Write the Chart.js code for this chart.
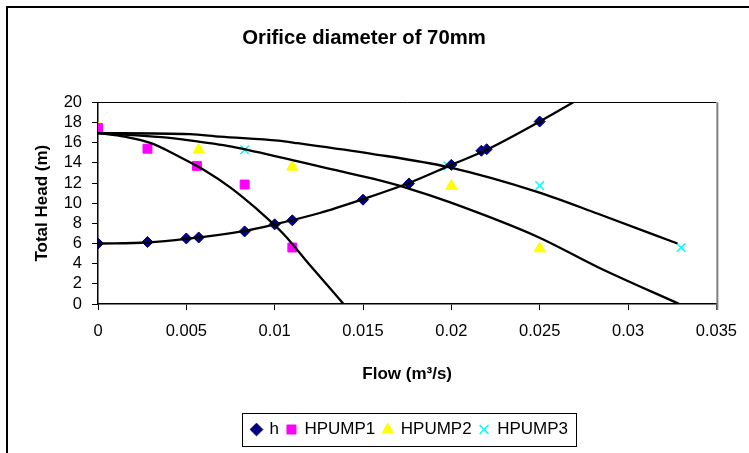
<!DOCTYPE html>
<html>
<head>
<meta charset="utf-8">
<script src="https://cdn.jsdelivr.net/npm/chart.js@4.4.1/dist/chart.umd.min.js"></script>
<style>
  html, body { margin: 0; padding: 0; background: #ffffff; }
  #wrap { width: 749px; height: 453px; position: relative; }
</style>
</head>
<body>
<div id="wrap"><canvas id="c" width="749" height="453"></canvas></div>
<script>
// ---- data ----
const chartTitle = 'Orifice diameter of 70mm';
const xTitle = 'Flow (m³/s)';
const yTitle = 'Total Head (m)';
const xTickLabels = ['0', '0.005', '0.01', '0.015', '0.02', '0.025', '0.03', '0.035'];
const seriesNames = ['h', 'HPUMP1', 'HPUMP2', 'HPUMP3'];

const hFlow = [0, 0.0028, 0.005, 0.0057, 0.0083, 0.01, 0.011, 0.015, 0.0176, 0.02, 0.0217, 0.022, 0.025];
const hHead = [6.0, 6.15, 6.5, 6.6, 7.2, 7.9, 8.3, 10.35, 11.95, 13.8, 15.2, 15.35, 18.1];

const pump1Flow = [0, 0.0028, 0.0056, 0.0083, 0.011];
const pump1Head = [17.45, 15.4, 13.7, 11.85, 5.6];
const pump2Flow = [0, 0.0057, 0.011, 0.02, 0.025];
const pump2Head = [17.4, 15.3, 13.6, 11.7, 5.5];
const pump3Flow = [0, 0.0083, 0.0198, 0.025, 0.033];
const pump3Head = [17.5, 15.3, 13.7, 11.75, 5.6];

// trend lines
const trendHFlow = [0, 0.0028, 0.005, 0.0083, 0.01, 0.0125, 0.015, 0.0176, 0.02, 0.022, 0.025, 0.0269];
const trendHHead = [6.0, 6.1, 6.45, 7.25, 7.9, 9.0, 10.4, 12.0, 13.8, 15.3, 18.1, 20.0];
const trend1Flow = [0, 0.0015, 0.003, 0.0045, 0.006, 0.0075, 0.009, 0.0105, 0.012, 0.0139];
const trend1Head = [16.95, 16.6, 15.95, 14.7, 13.3, 11.55, 9.4, 6.95, 3.85, 0];
const trend2Flow = [0, 0.0036, 0.0055, 0.0071, 0.0102, 0.0134, 0.0155, 0.0175, 0.0199, 0.0249, 0.0283, 0.0329];
const trend2Head = [16.95, 16.55, 16.15, 15.75, 14.6, 13.3, 12.45, 11.5, 10.1, 6.65, 3.65, 0];
const trend3Flow = [0, 0.0052, 0.0069, 0.0102, 0.0113, 0.0155, 0.0199, 0.0249, 0.0283, 0.0328];
const trend3Head = [16.95, 16.85, 16.6, 16.2, 15.95, 14.9, 13.55, 11.1, 8.95, 6.0];

const pts = (xs, ys) => xs.map((x, i) => ({ x: x, y: ys[i] }));

const FONT = "'Liberation Sans', Arial, sans-serif";

const frames = {
  id: 'frames',
  afterLayout(chart) {
    const lg = chart.legend;
    if (lg) { lg.left += 46; lg.right += 46; }
  },
  beforeDraw(chart) {
    const ctx = chart.ctx;
    ctx.save();
    ctx.fillStyle = '#ffffff';
    ctx.fillRect(0, 0, chart.width, chart.height);
    ctx.restore();
  },
  afterDraw(chart) {
    const ctx = chart.ctx;
    const a = chart.chartArea;
    ctx.save();
    ctx.strokeStyle = '#000000';
    ctx.lineWidth = 2;
    ctx.beginPath();
    ctx.moveTo(7, 460);
    ctx.lineTo(7, 7);
    ctx.lineTo(760, 7);
    ctx.stroke();
    ctx.lineWidth = 1;
    ctx.beginPath();
    ctx.moveTo(a.left, Math.round(a.top) + 0.5);
    ctx.lineTo(a.right, Math.round(a.top) + 0.5);
    ctx.stroke();
    ctx.strokeStyle = '#808080';
    ctx.lineWidth = 2;
    ctx.beginPath();
    ctx.moveTo(a.right + 1, a.top);
    ctx.lineTo(a.right + 1, a.bottom + 6);
    ctx.stroke();
    const lg = chart.legend;
    if (lg && lg.legendHitBoxes && lg.legendHitBoxes.length) {
      const hb = lg.legendHitBoxes;
      let l = Infinity, r = -Infinity, t = Infinity, b = -Infinity;
      hb.forEach(h => {
        l = Math.min(l, h.left); r = Math.max(r, h.left + h.width);
        t = Math.min(t, h.top); b = Math.max(b, h.top + h.height);
      });
      ctx.strokeStyle = '#000000';
      ctx.lineWidth = 1;
      ctx.strokeRect(Math.round(l - 10) + 0.5, Math.round(t - 8) + 0.5, Math.round(r - l + 18), Math.round(b - t + 16));
    }
    ctx.restore();
  }
};

const markerSets = [
  { label: seriesNames[0], data: pts(hFlow, hHead), pointStyle: 'rectRot', pointRadius: 5.5,
    backgroundColor: '#000080', borderColor: '#000080', borderWidth: 1 },
  { label: seriesNames[1], data: pts(pump1Flow, pump1Head), pointStyle: 'rect', pointRadius: 6.3,
    backgroundColor: '#FF00FF', borderColor: '#FF00FF', borderWidth: 1 },
  { label: seriesNames[2], data: pts(pump2Flow, pump2Head), pointStyle: 'triangle', pointRadius: 6.5,
    backgroundColor: '#FFFF00', borderColor: '#FFFF00', borderWidth: 1 },
  { label: seriesNames[3], data: pts(pump3Flow, pump3Head), pointStyle: 'crossRot', pointRadius: 6,
    backgroundColor: '#00FFFF', borderColor: '#00FFFF', borderWidth: 1.6 }
].map(d => Object.assign(d, { showLine: false, order: 1, pointHoverRadius: d.pointRadius }));

const trendSets = [
  pts(trendHFlow, trendHHead), pts(trend1Flow, trend1Head),
  pts(trend2Flow, trend2Head), pts(trend3Flow, trend3Head)
].map(data => ({
  label: 'trend', data: data, showLine: true, pointRadius: 0, borderColor: '#000000',
  backgroundColor: '#000000', borderWidth: 2.3, cubicInterpolationMode: 'monotone', order: 0, fill: false
}));

new Chart(document.getElementById('c'), {
  type: 'scatter',
  data: { datasets: markerSets.concat(trendSets) },
  options: {
    responsive: false,
    animation: false,
    devicePixelRatio: 1,
    layout: { padding: { left: 8, right: 29, top: 8, bottom: 5 } },
    plugins: {
      title: {
        display: true, text: chartTitle, color: '#000000',
        font: { family: FONT, size: 20.3, weight: 'bold' },
        padding: { top: 18, bottom: 52 }
      },
      legend: {
        position: 'bottom',
        labels: {
          usePointStyle: true, boxWidth: 9, boxHeight: 9, padding: 8, color: '#000000',
          font: { family: FONT, size: 17 },
          filter: (item) => item.datasetIndex < 4
        }
      },
      tooltip: { enabled: false }
    },
    scales: {
      x: {
        type: 'linear', min: 0, max: 0.035,
        afterFit: (s) => { s.height = 109; },
        ticks: { stepSize: 0.005, color: '#000000', padding: 12, maxRotation: 0, autoSkip: false,
          font: { family: FONT, size: 16.5 },
          callback: (v, i) => xTickLabels[i] },
        grid: { drawOnChartArea: false, drawTicks: true, tickLength: 6, color: '#000000', tickColor: '#000000' },
        border: { display: true, color: '#000000', width: 1.5 },
        title: { display: true, text: xTitle, color: '#000000',
          font: { family: FONT, size: 17, weight: 'bold' }, padding: { top: 0, bottom: 28 } }
      },
      y: {
        type: 'linear', min: 0, max: 20,
        afterFit: (s) => { s.width = 90; },
        ticks: { stepSize: 2, color: '#000000', padding: 10, autoSkip: false, font: { family: FONT, size: 16.5 } },
        grid: { drawOnChartArea: false, drawTicks: true, tickLength: 6, color: '#000000', tickColor: '#000000' },
        border: { display: true, color: '#000000', width: 1.5 },
        title: { display: true, text: yTitle, color: '#000000',
          font: { family: FONT, size: 17, weight: 'bold' }, padding: { top: 24, bottom: 0 } }
      }
    }
  },
  plugins: [frames]
});
</script>
</body>
</html>
